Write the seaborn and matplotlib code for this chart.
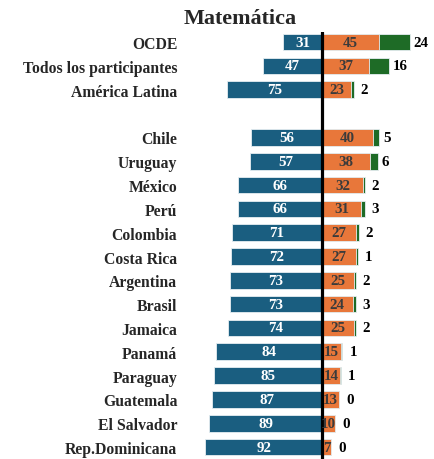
import matplotlib
matplotlib.use("Agg")
import matplotlib.pyplot as plt
import seaborn as sns
import pandas as pd

# Achievement levels in mathematics (% of students)
groups = ["OCDE", "Todos los participantes", "América Latina"]
countries = ["Chile", "Uruguay", "México", "Perú", "Colombia", "Costa Rica",
             "Argentina", "Brasil", "Jamaica", "Panamá", "Paraguay",
             "Guatemala", "El Salvador", "Rep.Dominicana"]
low_pct = [31, 47, 75, 56, 57, 66, 66, 71, 72, 73, 73, 74, 84, 85, 87, 89, 92]
mid_pct = [45, 37, 23, 40, 38, 32, 31, 27, 27, 25, 24, 25, 15, 14, 13, 10, 7]
high_pct = [24, 16, 2, 5, 6, 2, 3, 2, 1, 2, 3, 2, 1, 1, 0, 0, 0]

BLUE = "#1a5e80"
ORANGE = "#e8773a"
GREEN = "#1e6b26"
EDGE = "#e6eef2"

labels = groups + countries
df = pd.DataFrame({"cat": labels, "low": low_pct, "mid": mid_pct, "high": high_pct})
df["neg_low"] = -df["low"]
df["cum"] = df["mid"] + df["high"]
order = groups + [" "] + countries

sns.set_style("white")
plt.rcParams["font.family"] = ["Liberation Serif", "DejaVu Serif"]
plt.rcParams["font.weight"] = "bold"

fig = plt.figure(figsize=(4.35, 4.6), dpi=100)
ax = fig.add_axes([0.414, 0.0, 0.586, 0.928])

bar_kw = dict(orient="y", order=order, errorbar=None, width=0.7,
              linewidth=0.6, edgecolor=EDGE, ax=ax)
sns.barplot(data=df, x="cum", y="cat", color=GREEN, saturation=1, **bar_kw)
sns.barplot(data=df, x="mid", y="cat", color=ORANGE, saturation=1, **bar_kw)
sns.barplot(data=df, x="neg_low", y="cat", color=BLUE, saturation=1, **bar_kw)

ax.set_xlim(-112, 89)
ax.set_ylim(17.5, -0.42)
ax.axvline(0, color="black", lw=2.3, zorder=5)

ypos = {c: order.index(c) for c in labels}
for _, r in df.iterrows():
    y = ypos[r["cat"]]
    ax.text(-r["low"] / 2, y, f"{r['low']}", ha="center", va="center",
            color="white", fontsize=10.8, fontweight="bold", zorder=6)
    ax.text(r["mid"] / 2, y, f"{r['mid']}", ha="center", va="center",
            color="#3b3b3b", fontsize=10.8, fontweight="bold", zorder=6)
    txt = f"{r['high']}"
    hx = max(r["mid"] + r["high"] / 2 + 9, r["cum"] + 2.5 + 3 * len(txt))
    ax.text(hx, y, txt, ha="center", va="center", color="black",
            fontsize=10.8, fontweight="bold", zorder=6)

ax.set_xlabel("")
ax.set_ylabel("")
ax.set_xticks([])
ax.tick_params(axis="y", length=0, pad=2, labelsize=11.3)
for t in ax.get_yticklabels():
    t.set_fontweight("bold")
for s in ax.spines.values():
    s.set_visible(False)

fig.text(240 / 435, 1 - 19 / 460, "Matemática", ha="center", va="center",
         fontsize=15.9, fontweight="bold")

fig.savefig("out.png", dpi=100)
